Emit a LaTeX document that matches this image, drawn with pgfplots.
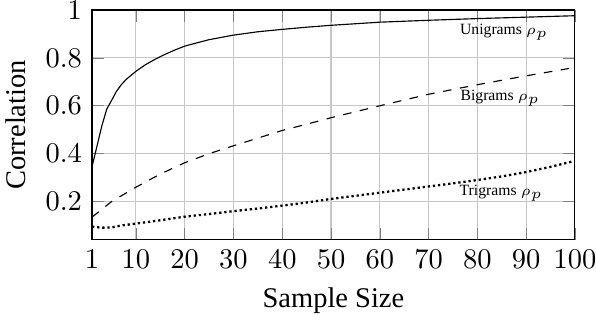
\documentclass[border=0pt]{standalone}
\usepackage{fontspec}
\setmainfont{Liberation Serif}
\usepackage{pgfplots}
\pgfplotsset{compat=1.18}
\usetikzlibrary{calc}

\newcommand{\lab}{\fontsize{5.5}{6}\selectfont}

\begin{document}
\begin{tikzpicture}
\begin{axis}[
  scale only axis,
  width=169.5pt, height=80.7pt,
  xmin=1, xmax=100, ymin=0.04, ymax=1,
  xtick={1,10,20,30,40,50,60,70,80,90,100},
  ytick={0.2,0.4,0.6,0.8,1},
  grid=major,
  major grid style={thin, black!22},
  xlabel={Sample Size}, ylabel={Correlation},
]
% unigrams
\addplot[black, mark=none] coordinates {
  (1,0.346) (2,0.43) (3,0.515) (4,0.585) (5,0.622) (6,0.66) (7,0.688) (8,0.71)
  (10,0.744) (12,0.772) (14,0.795) (16,0.815) (18,0.833) (20,0.849) (22,0.86)
  (25,0.876) (30,0.895) (35,0.909) (40,0.919) (45,0.928) (50,0.936) (60,0.949)
  (70,0.957) (80,0.964) (90,0.970) (100,0.976)
};
% bigrams
\addplot[black, dashed, mark=none] coordinates {
  (1,0.135) (5,0.2) (10,0.26) (15,0.315) (20,0.362) (25,0.4) (30,0.433)
  (35,0.465) (40,0.497) (45,0.523) (50,0.55) (60,0.6) (70,0.648)
  (80,0.688) (90,0.725) (100,0.76)
};
% trigrams
\addplot[black, thick, densely dotted, mark=none] coordinates {
  (1,0.095) (3,0.091) (5,0.092) (7,0.1) (10,0.108) (15,0.122) (20,0.137)
  (25,0.148) (30,0.16) (35,0.171) (40,0.183) (45,0.196) (50,0.211)
  (55,0.224) (60,0.237) (65,0.25) (70,0.263) (75,0.276) (80,0.29)
  (85,0.305) (90,0.323) (95,0.345) (100,0.37)
};
\node at (axis cs:85.5,0.906) {\lab Unigrams $\rho_p$};
\node at (axis cs:84.7,0.63) {\lab Bigrams $\rho_p$};
\node at (axis cs:84.9,0.236) {\lab Trigrams $\rho_p$};
\end{axis}
% tight crop like the original figure
\pgfresetboundingbox
\path ($(current axis.south west)+(-32.3pt,-28.1pt)$) rectangle ($(current axis.north east)+(7.4pt,3.5pt)$);
\end{tikzpicture}
\end{document}
